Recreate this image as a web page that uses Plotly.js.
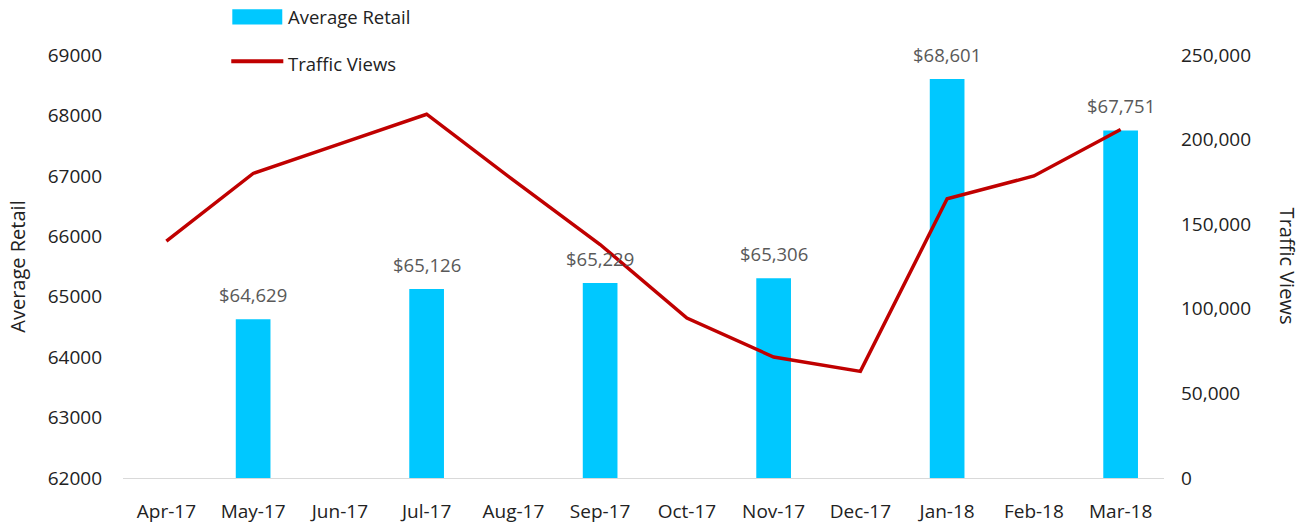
<!DOCTYPE html>
<html>
<head>
<meta charset="utf-8">
<script src="https://cdn.plot.ly/plotly-3.0.1.min.js"></script>
<style>html,body{margin:0;padding:0;background:#fff;}#chart{width:1310px;height:524px;}</style>
</head>
<body>
<div id="chart"></div>
<script>
const months = ["Apr-17","May-17","Jun-17","Jul-17","Aug-17","Sep-17","Oct-17","Nov-17","Dec-17","Jan-18","Feb-18","Mar-18"];
const averageRetail = [null, 64629, null, 65126, null, 65229, null, 65306, null, 68601, null, 67751];
const trafficViews = [140000, 180000, 197500, 215000, 176000, 138000, 94500, 71500, 63000, 165000, 178500, 206000];
const leftTicks = [62000, 63000, 64000, 65000, 66000, 67000, 68000, 69000];
const rightTicks = [0, 50000, 100000, 150000, 200000, 250000];

const FONT = "Open Sans, Noto Sans, sans-serif";
const barColor = "#00C8FF";
const lineColor = "#C00000";

const bars = {
  type: "bar", name: "Average Retail", x: months, y: averageRetail,
  marker: {color: barColor}, width: 0.4, yaxis: "y", showlegend: false,
  hoverinfo: "x+y"
};
const line = {
  type: "scatter", mode: "lines", name: "Traffic Views", x: months, y: trafficViews,
  line: {color: lineColor, width: 3.5}, yaxis: "y2", showlegend: false
};

const annotations = [];
months.forEach((m, i) => {
  const v = averageRetail[i];
  if (v !== null) {
    annotations.push({
      x: m, y: v, xref: "x", yref: "y", yanchor: "bottom", yshift: 10,
      text: "$" + v.toLocaleString("en-US"), showarrow: false,
      font: {family: FONT, size: 18.5, color: "#595959"}
    });
  }
});
annotations.push({
  xref: "paper", yref: "paper", x: 1.119, y: 0.5, textangle: 90,
  text: "Traffic Views", showarrow: false, xanchor: "center", yanchor: "middle",
  font: {family: FONT, size: 20, color: "#222"}
});
// legend texts
annotations.push({xref: "paper", yref: "paper", x: 0.157, y: 1.09, xanchor: "left", yanchor: "middle",
  text: "Average Retail", showarrow: false, font: {family: FONT, size: 18.5, color: "#222"}});
annotations.push({xref: "paper", yref: "paper", x: 0.157, y: 0.98, xanchor: "left", yanchor: "middle",
  text: "Traffic Views", showarrow: false, font: {family: FONT, size: 18.5, color: "#222"}});

const shapes = [
  {type: "rect", xref: "paper", yref: "paper", x0: 0.105, x1: 0.153, y0: 1.072, y1: 1.108,
   fillcolor: barColor, line: {width: 0}},
  {type: "line", xref: "paper", yref: "paper", x0: 0.104, x1: 0.154, y0: 0.985, y1: 0.985,
   line: {color: lineColor, width: 4}}
];

const layout = {
  width: 1310, height: 524,
  margin: {l: 123, r: 146, t: 55, b: 46},
  paper_bgcolor: "#fff", plot_bgcolor: "#fff",
  font: {family: FONT, size: 18, color: "#333"},
  xaxis: {
    type: "category", showgrid: false, zeroline: false, showline: true,
    linecolor: "#d9d9d9", linewidth: 1, ticks: "", ticklabelstandoff: 16,
    tickfont: {family: FONT, size: 19, color: "#222"}
  },
  yaxis: {
    range: [62000, 69000], tickvals: leftTicks, ticktext: leftTicks.map(String),
    showgrid: false, zeroline: false, showline: false, ticks: "", ticklabelstandoff: 20,
    tickfont: {family: FONT, size: 19, color: "#222"},
    title: {text: "Average Retail", font: {family: FONT, size: 20, color: "#222"}, standoff: 16}
  },
  yaxis2: {
    range: [0, 250000], overlaying: "y", side: "right",
    tickvals: rightTicks, ticktext: rightTicks.map(v => v.toLocaleString("en-US")),
    showgrid: false, zeroline: false, showline: false, ticks: "", ticklabelstandoff: 16,
    tickfont: {family: FONT, size: 19, color: "#222"}
  },
  annotations: annotations,
  shapes: shapes,
  showlegend: false
};

Plotly.newPlot("chart", [bars, line], layout, {displayModeBar: false, staticPlot: true});
</script>
</body>
</html>
